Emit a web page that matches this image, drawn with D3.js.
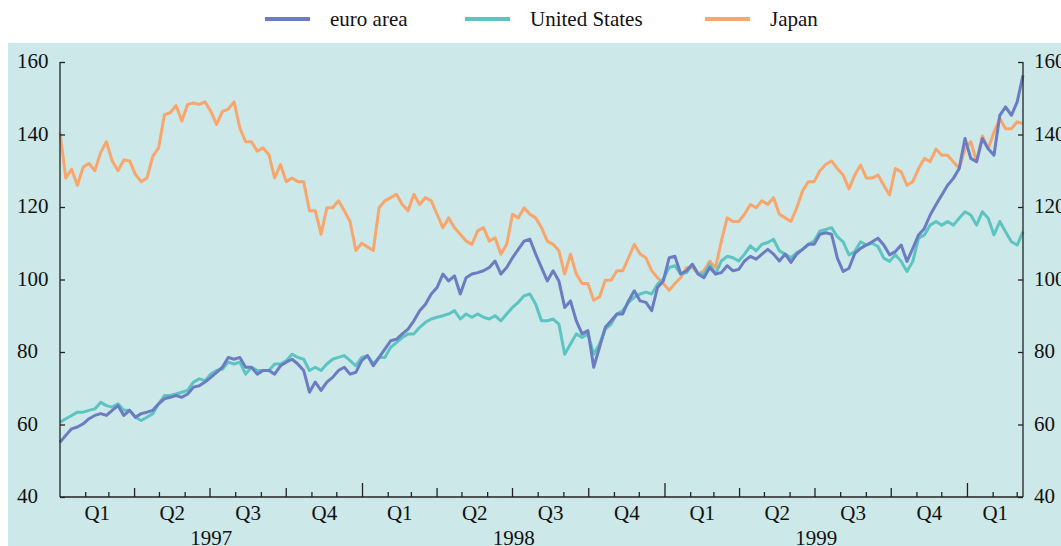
<!DOCTYPE html>
<html>
<head>
<meta charset="utf-8">
<script src="https://cdn.jsdelivr.net/npm/d3@7"></script>
<style>
  body { margin: 0; background: #fff; }
  svg { display: block; font-family: "Liberation Serif", "DejaVu Serif", serif; }
</style>
</head>
<body>
<svg id="chart" width="1061" height="546"></svg>
<script>
// weekly readings, first week of Jan 1997 to early Mar 2000
var startDate = new Date(1997, 0, 1);

var euroArea = [55.1,57,58.8,59.3,60.2,61.6,62.5,63,62.5,63.9,65.2,62.5,63.9,62,63,63.4,63.9,65.7,67.1,67.5,
  68,67.5,68.4,70.3,70.7,71.7,73,74.4,75.8,78.5,78,78.5,75.8,75.8,73.9,74.9,74.9,73.9,76.2,77.2,
  78,76.7,74.9,68.9,71.7,69.4,71.7,73,74.9,75.8,73.9,74.4,77.6,79,76.2,78.5,80.8,83.1,83.5,85,
  86.3,88.6,91.4,93.2,96,97.8,101.5,99.6,101,96,100.5,101.5,101.9,102.4,103.3,105.1,101.5,103.3,106,108.3,
  110.6,111.1,107,103.3,99.6,102.4,99.6,92.3,94.1,88.6,85,85.9,75.8,81.3,86.8,88.6,90.5,90.5,94.1,96.9,
  94.1,93.7,91.4,97.8,99.6,106,106.4,101.5,102.4,104.2,101.5,100.5,103.3,101.5,101.9,103.8,102.4,102.8,105.1,106.4,
  105.6,107,108.3,107,105.1,107,104.7,107,108.3,109.7,109.7,112.5,112.9,112.5,105.9,102.2,103.1,107.2,108.6,109.5,
  110.4,111.4,109.5,106.8,107.7,109.5,105,108.6,112.3,114.1,117.8,120.6,123.3,126,127.9,130.6,138.9,133.4,132.5,138.9,
  136.1,134.3,145.3,147.6,145.3,149,156.3];

var unitedStates = [60.6,61.6,62.5,63.4,63.4,63.9,64.3,66.1,65.2,64.8,65.7,63.9,63.9,62,61.1,62,63,65.7,68,68,
  68.4,68.9,69.4,71.7,72.6,72.1,73.9,74.9,75.3,77.2,76.7,77.2,73.9,75.8,74.9,74.9,74.9,76.7,76.7,77.6,
  79.4,78.5,78,74.9,75.8,74.9,76.7,78,78.5,79,77.6,76.2,78.5,79,76.7,78.5,78.5,81.3,82.6,84,
  85,85,86.8,88.2,89.1,89.6,90,90.5,91.4,89.1,90.5,89.6,90.5,89.6,89.1,90,88.6,90.5,92.3,93.7,
  95.5,96,93.2,88.6,88.6,89.1,87.7,79.4,82.2,85,84,85,79.4,82.2,86.3,87.7,90.5,91.4,93.7,95.1,
  96,96.5,96,98.7,100.1,103.3,103.8,101.5,101.9,104.2,101.5,101.5,104.2,101.5,105.1,106.4,106,105.1,107,109.3,
  107.9,109.7,110.2,111.1,107.9,107,106,107.4,108.3,109.7,110.6,113.4,113.8,114.3,111.8,110.4,106.8,107.7,110.4,109.5,
  110,109.1,105.9,105,106.8,105,102.2,105,111.4,112.3,115,116,115,116,115,116.9,118.7,117.8,115,118.7,
  116.9,112.3,116,113.2,110.4,109.5,113.2];

var japan = [140.5,128,130.4,126,131,132,130,135,138,132.7,130,133,132.7,129,127,128,134,136.3,145.5,146,
  148,143.7,148.3,148.7,148.3,149,146.4,142.8,146.4,147,149,141.8,138,138,135.4,136.3,134.5,128,131.7,127,
  128,127,127,119,119,112.5,119.8,119.8,121.7,119,116,108,110,109,108,119.8,121.7,122.6,123.5,120.7,
  119,123.5,120.7,122.6,121.7,118,114.3,117,114.3,112.5,110.6,109.7,113.4,114.3,110.6,111.5,107,109.7,118,117,
  119.8,118,117,114.3,110.6,109.7,107.9,101.5,107,101.5,98.9,98.9,94.3,95.2,99.8,99.8,102.4,102.4,106,109.7,
  107,106,102.4,100.5,98.9,97,98.9,100.5,103.3,103.3,101.5,102.4,105,103.3,110.6,117,116,116,118,120.7,
  119.8,121.7,120.7,122.6,118,117,116,119.8,124.4,127,127,130,131.7,132.7,130.6,128.8,125,128.8,131.6,128,
  128,128.8,126,123.3,130.6,129.7,126,127,130.6,133.4,132.5,136,134.3,134.3,132.5,130.6,136,138,132.5,139.6,
  136,140.7,144.4,141.6,141.6,143.5,143];

var seriesNames = ["euro area", "United States", "Japan"];
var seriesColors = ["#6b7cc2", "#5cc4c1", "#f8a66c"];
var yTicks = [40, 60, 80, 100, 120, 140, 160];
var quarterLabels = ["Q1", "Q2", "Q3", "Q4"];
var yearLabels = ["1997", "1998", "1999"];

var svg = d3.select("#chart");
var plotLeft = 60, plotRight = 1023, plotTop = 62, plotBottom = 497;
var fontSize = 21;

svg.append("rect")
  .attr("x", 8).attr("y", 43)
  .attr("width", 1053).attr("height", 503)
  .attr("fill", "#cce8e8");

var x = d3.scaleTime()
  .domain([startDate, new Date(2000, 2, 8)])
  .range([plotLeft, plotRight]);

var y = d3.scaleLinear()
  .domain([40, 160])
  .range([plotBottom, plotTop]);

function dateOf(i) { return d3.timeDay.offset(startDate, 7 * i); }

var allSeries = [euroArea, unitedStates, japan];

var line = d3.line()
  .x(function(d, i) { return x(dateOf(i)); })
  .y(function(d) { return y(d); });

// japan drawn first, euro area on top
[2, 1, 0].forEach(function(k) {
  svg.append("path")
    .datum(allSeries[k])
    .attr("fill", "none")
    .attr("stroke", seriesColors[k])
    .attr("stroke-width", 3)
    .attr("stroke-linejoin", "round")
    .attr("d", line);
});

// y axes, ticks pointing inward, labels left aligned
var axisColor = "#222";
svg.append("line").attr("x1", plotLeft).attr("x2", plotLeft).attr("y1", plotTop).attr("y2", plotBottom)
  .attr("stroke", axisColor).attr("stroke-width", 1.3);
svg.append("line").attr("x1", plotRight).attr("x2", plotRight).attr("y1", plotTop).attr("y2", plotBottom)
  .attr("stroke", axisColor).attr("stroke-width", 1.3);

var leftAxis = svg.append("g").attr("transform", "translate(" + plotLeft + ",0)")
  .call(d3.axisRight(y).tickValues(yTicks).tickSize(5).tickFormat(""));
var rightAxis = svg.append("g").attr("transform", "translate(" + plotRight + ",0)")
  .call(d3.axisLeft(y).tickValues(yTicks).tickSize(5).tickFormat(""));
[leftAxis, rightAxis].forEach(function(g) {
  g.select(".domain").remove();
  g.selectAll("line").attr("stroke", axisColor).attr("stroke-width", 1.3);
});

svg.selectAll(".ylab-l").data(yTicks).enter().append("text")
  .attr("x", 17).attr("y", function(d) { return y(d) + 6; })
  .attr("font-size", fontSize).attr("fill", "#111")
  .text(function(d) { return d; });
svg.selectAll(".ylab-r").data(yTicks).enter().append("text")
  .attr("x", 1034).attr("y", function(d) { return y(d) + 6; })
  .attr("font-size", fontSize).attr("fill", "#111")
  .text(function(d) { return d; });

// x axis: month, quarter and year ticks pointing up
svg.append("line").attr("x1", plotLeft).attr("x2", plotRight).attr("y1", plotBottom).attr("y2", plotBottom)
  .attr("stroke", axisColor).attr("stroke-width", 1.3);

var months = d3.timeMonth.range(d3.timeMonth.offset(startDate, 1), x.domain()[1]);
svg.selectAll(".mtick").data(months).enter().append("line")
  .attr("x1", function(d) { return x(d); })
  .attr("x2", function(d) { return x(d); })
  .attr("y1", plotBottom)
  .attr("y2", function(d) {
    if (d.getMonth() === 0) return plotBottom - 14;
    if (d.getMonth() % 3 === 0) return plotBottom - 9;
    return plotBottom - 5;
  })
  .attr("stroke", axisColor).attr("stroke-width", 1.3);

var quarters = d3.timeMonth.every(3).range(startDate, x.domain()[1]);
svg.selectAll(".qlab").data(quarters).enter().append("text")
  .attr("x", function(d) {
    var end = d3.timeMonth.offset(d, 3);
    if (end > x.domain()[1]) end = x.domain()[1];
    return (x(d) + x(end)) / 2;
  })
  .attr("y", 520)
  .attr("text-anchor", "middle")
  .attr("font-size", fontSize).attr("fill", "#111")
  .text(function(d) { return quarterLabels[Math.floor(d.getMonth() / 3)]; });

svg.selectAll(".yrlab").data(yearLabels).enter().append("text")
  .attr("x", function(d) {
    var a = new Date(+d, 0, 1), b = new Date(+d + 1, 0, 1);
    return (x(a) + x(b)) / 2;
  })
  .attr("y", 545)
  .attr("text-anchor", "middle")
  .attr("font-size", fontSize).attr("fill", "#111")
  .text(function(d) { return d; });

// legend
var legendX = [265, 465, 705];
var legend = svg.selectAll(".leg").data(seriesNames).enter().append("g")
  .attr("transform", function(d, i) { return "translate(" + legendX[i] + ",19)"; });
legend.append("line")
  .attr("x1", 0).attr("x2", 45).attr("y1", 0).attr("y2", 0)
  .attr("stroke", function(d, i) { return seriesColors[i]; })
  .attr("stroke-width", 4);
legend.append("text")
  .attr("x", 65).attr("y", 7)
  .attr("font-size", fontSize).attr("fill", "#111")
  .text(function(d) { return d; });
</script>
</body>
</html>
